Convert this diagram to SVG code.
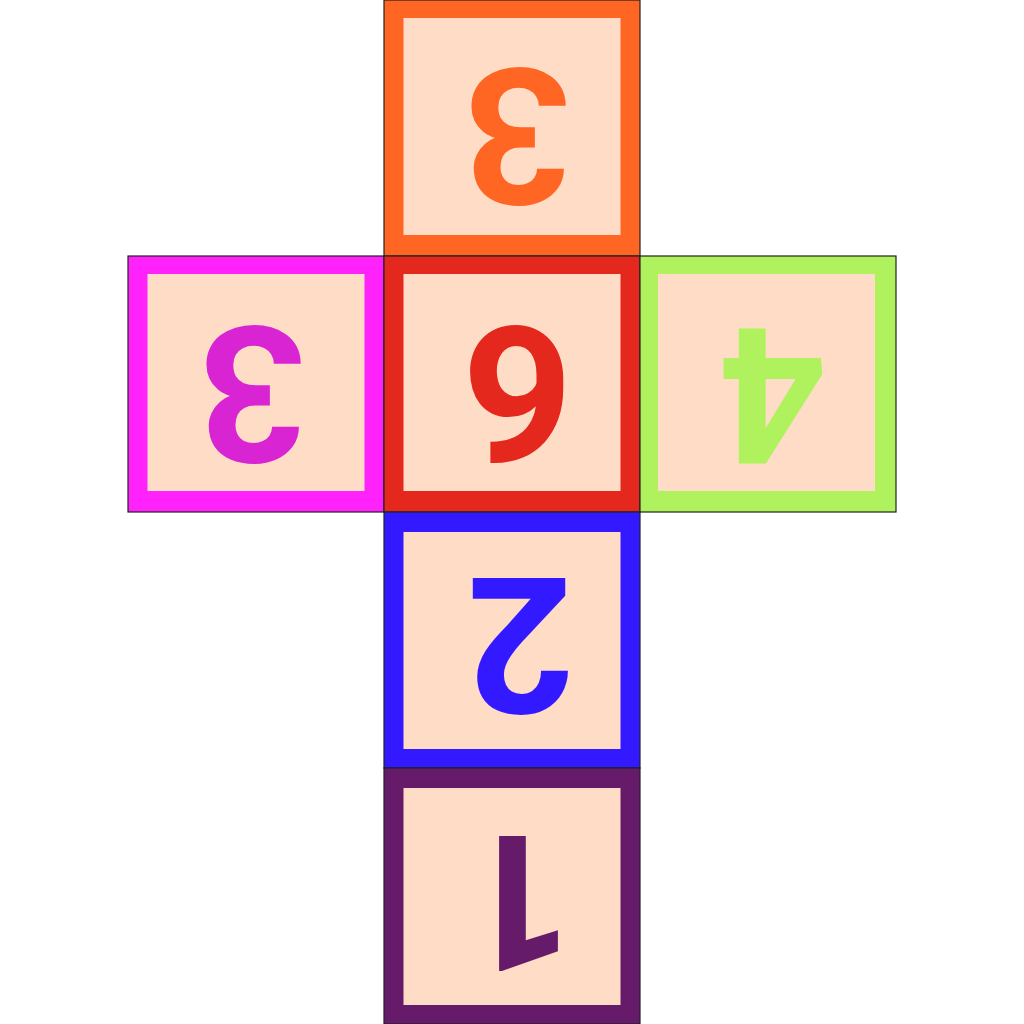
<svg xmlns="http://www.w3.org/2000/svg" width="1024" height="1024" viewBox="0 0 1024 1024">
<style>
.outer{stroke:#222;stroke-width:1.2}
.inner{fill:#FEDCC5}
.digit{font-family:Roboto,"Liberation Sans",Arial,sans-serif;font-weight:bold;font-size:190px;text-anchor:middle}
</style>
<rect width="1024" height="1024" fill="#fff"/>
<g id="face-top">
<rect class="outer" x="384" y="0" width="256" height="256" fill="#FF6624"/>
<rect class="inner" x="403.5" y="18" width="217" height="217"/>
<text class="digit" fill="#FF6624" transform="translate(517,137) rotate(180)" x="0" y="68">3</text>
</g>
<g id="face-left">
<rect class="outer" x="128" y="256" width="256" height="256" fill="#FF22FA"/>
<rect class="inner" x="147.5" y="274" width="217" height="217"/>
<text class="digit" fill="#D824D2" transform="translate(252,395) rotate(180)" x="0" y="68">3</text>
</g>
<g id="face-center">
<rect class="outer" x="384" y="256" width="256" height="256" fill="#E5281E"/>
<rect class="inner" x="403.5" y="274" width="217" height="217"/>
<text class="digit" fill="#E5281E" transform="translate(518,395) rotate(180)" x="0" y="68">6</text>
</g>
<g id="face-right">
<rect class="outer" x="640" y="256" width="256" height="256" fill="#B0F25E"/>
<rect class="inner" x="658" y="274" width="217" height="217"/>
<text class="digit" fill="#B0F25E" transform="translate(773,397) rotate(180)" x="0" y="68">4</text>
</g>
<g id="face-lower">
<rect class="outer" x="384" y="512" width="256" height="256" fill="#3319FF"/>
<rect class="inner" x="403.5" y="532" width="217" height="217"/>
<text class="digit" fill="#3319FF" transform="translate(520,646) rotate(180)" x="0" y="68">2</text>
</g>
<g id="face-bottom">
<rect class="outer" x="384" y="768" width="256" height="256" fill="#661A6A"/>
<rect class="inner" x="403.5" y="788" width="217" height="217"/>
<text class="digit" fill="#661A6A" transform="translate(519,904) rotate(180)" x="0" y="68">1</text>
</g>
<g id="connectors"></g>
</svg>
